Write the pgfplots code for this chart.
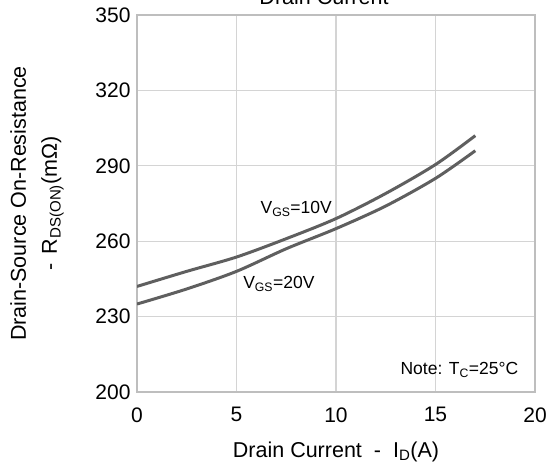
\documentclass[border=0pt]{standalone}
\usepackage{pgfplots}
\pgfplotsset{compat=1.18}
\usepackage{fontspec}
\setmainfont{Liberation Sans}
\definecolor{curve}{RGB}{95,95,95}
\definecolor{gridc}{RGB}{212,212,212}
\definecolor{framec}{RGB}{190,190,190}
\begin{document}
\begin{tikzpicture}
\begin{axis}[
  at={(0,0)}, anchor=south west,
  scale only axis, width=398bp, height=377bp,
  xmin=0, xmax=20, ymin=200, ymax=350,
  xtick={0,5,10,15,20}, ytick={200,230,260,290,320,350},
  grid=major, major grid style={gridc, line width=1.2bp},
  axis line style={framec, line width=1.5bp},
  tick style={draw=none},
  /pgf/number format/assume math mode=true,
  ticklabel style={font=\fontsize{21bp}{24bp}\selectfont},
  yticklabel style={xshift=-3bp},
  xticklabel style={yshift=-12bp},
  xlabel={Drain Current \ - \ I\textsubscript{D}(A)},
  xlabel style={at={(axis description cs:0.5,0)}, anchor=center, yshift=-60bp, font=\fontsize{21.5bp}{24bp}\selectfont},
]
\addplot[curve, line width=3bp, smooth] coordinates {
 (0,242) (2.5,248) (5,253.7) (7.5,261) (10,269) (12.5,279) (15,290.5) (17,302)};
\addplot[curve, line width=3bp, smooth] coordinates {
 (0,235) (2.5,241) (5,248) (7.5,257) (10,265) (12.5,274) (15,285) (17,296)};
\node[font=\fontsize{17.5bp}{20bp}\selectfont] at (axis cs:8.0,272.8) {V\textsubscript{GS}=10V};
\node[font=\fontsize{17.5bp}{20bp}\selectfont] at (axis cs:7.13,243) {V\textsubscript{GS}=20V};
\node[font=\fontsize{17.5bp}{20bp}\selectfont] at (axis cs:16.2,208.8) {Note: T\textsubscript{C}=25°C};
\end{axis}
\node[rotate=90, align=center, anchor=center, font=\fontsize{21.5bp}{31bp}\selectfont] at (-100bp,188.5bp) {Drain-Source On-Resistance\\- \,R\textsubscript{DS(ON)}(mΩ)};
\node[anchor=base, font=\fontsize{21.5bp}{24bp}\selectfont] at (187bp,387bp) {Drain Current};
\pgfresetboundingbox
\useasboundingbox (-137bp,-78bp) rectangle (411bp,392bp);
\end{tikzpicture}
\end{document}
